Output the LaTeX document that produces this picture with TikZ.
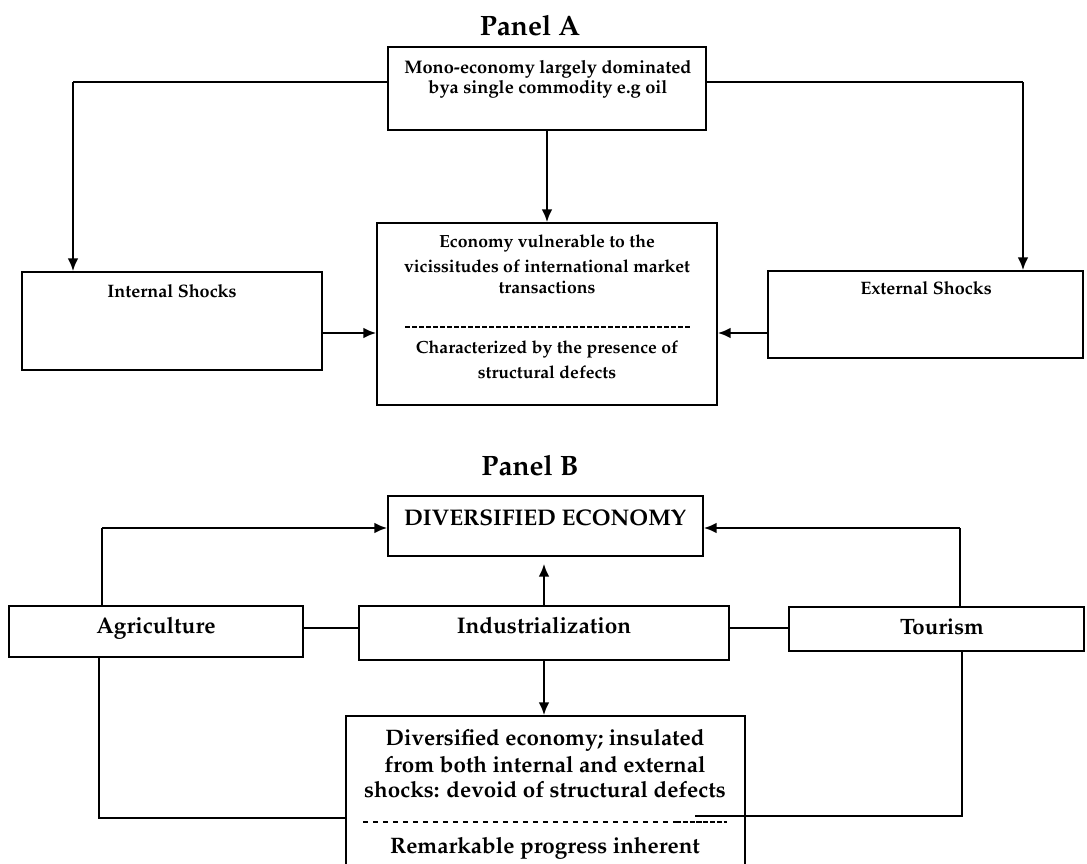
\documentclass[tikz,border=0pt]{standalone}
\usepackage[T1]{fontenc}
\usepackage{mathpazo}
\usetikzlibrary{arrows.meta,positioning,calc,fit}

\tikzset{
  box/.style={draw,line width=0.7pt,inner sep=0pt,fit={#1}},
  txt/.style={font=\bfseries\fontsize{#1}{#1}\selectfont,inner sep=0pt,anchor=base},
  thinline/.style={line width=0.7pt},
  arr/.style={line width=1.3pt,-{Latex[length=6.5pt,width=5.5pt]}},
  hyph/.style={line width=1.1pt}
}

\begin{document}
\begin{tikzpicture}[x=0.5pt,y=-0.5pt]
  \clip (0,0) rectangle (1087,863);

  % Panel A
  \node[txt=14] (ttlA) at (530,35) {Panel A};
  \node[box={(388,47) (706,130)}] (top) {};
  \node[txt=9.1] (topa) at (548,73) {Mono-economy largely dominated};
  \node[txt=9.1] (topb) at (548,93) {bya single commodity e.g oil};

  \node[box={(22,272) (322,370)}] (ins) {};
  \node[txt=9] (insl) at (172,297) {Internal Shocks};
  \node[box={(768,271) (1083,358)}] (ext) {};
  \node[txt=9] (extl) at (926,294) {External Shocks};

  \node[box={(377,223) (717,405)}] (mid) {};
  \node[txt=8.8] (mida) at (547,247) {Economy vulnerable to the};
  \node[txt=8.8] (midb) at (547,272) {vicissitudes of international market};
  \node[txt=8.8] (midc) at (547,293) {transactions};
  \node[txt=8.8] (midd) at (547,353) {Characterized by the presence of};
  \node[txt=8.8] (mide) at (547,378) {structural defects};
  \draw[hyph,dash pattern=on 2.6pt off 0.9pt] (405,327) -- (690,327);

  \coordinate (aL) at (73,82);
  \coordinate (aR) at (1023,82);
  \coordinate (aM) at (350,333);
  \draw[thinline] (top.west |- aL) -- (aL);
  \draw[arr] (aL) -- (aL |- ins.north);
  \draw[thinline] (top.east |- aR) -- (aR);
  \draw[arr] (aR) -- (aR |- ext.north);
  \draw[arr] (top.south) -- (mid.north);
  \draw[arr] (ins.east |- aM) -- (mid.west |- aM);
  \draw[arr] (ext.west |- aM) -- (mid.east |- aM);

  % Panel B
  \node[txt=14] (ttlB) at (530,475) {Panel B};
  \node[box={(388,496) (703,556)}] (div) {};
  \node[txt=11.3] (divl) at (545,525) {DIVERSIFIED ECONOMY};

  \node[box={(9,606) (303,657)}] (agr) {};
  \node[txt=11.3] (agrl) at (156,633) {Agriculture};
  \node[box={(359,606) (729,660)}] (ind) {};
  \node[txt=11.3] (indl) at (544,633) {Industrialization};
  \node[box={(789,607) (1084,651)}] (tou) {};
  \node[txt=11.1] (toul) at (942,634) {Tourism};

  \node[box={(346,716) (745,900)}] (res) {};
  \node[txt=11.2] (resa) at (545,745) {Diversified economy; insulated};
  \node[txt=11.2] (resb) at (545,772) {from both internal and external};
  \node[txt=11.2] (resc) at (545,797) {shocks: devoid of structural defects};
  \node[txt=11.2] (resd) at (545,853) {Remarkable progress inherent};
  \draw[hyph,dash pattern=on 2.6pt off 2.4pt] (363,822) -- (676,822);
  \draw[hyph,dash pattern=on 2.6pt off 0.8pt] (676,822) -- (727,822);

  \coordinate (bL) at (102,528);
  \coordinate (bR) at (960,528);
  \coordinate (bM) at (330,628);
  \coordinate (cL) at (99,818);
  \coordinate (cS) at (695,816);
  \coordinate (cR) at (962,816);
  \draw[thinline] (bL |- agr.north) -- (bL);
  \draw[arr] (bL) -- (div.west |- bL);
  \draw[thinline] (bR |- tou.north) -- (bR);
  \draw[arr] (bR) -- (div.east |- bR);
  \draw[arr,shorten >=3.5pt] (ind.north) -- (ind.north |- div.south);
  \draw[thinline] (agr.east |- bM) -- (ind.west |- bM);
  \draw[thinline] (ind.east |- bM) -- (tou.west |- bM);
  \draw[arr] (ind.south) -- (ind.south |- res.north);
  \draw[thinline] (cL |- agr.south) -- (cL) -- (res.west |- cL);
  \draw[thinline] (cS) -- (cR) -- (cR |- tou.south);
\end{tikzpicture}
\end{document}
